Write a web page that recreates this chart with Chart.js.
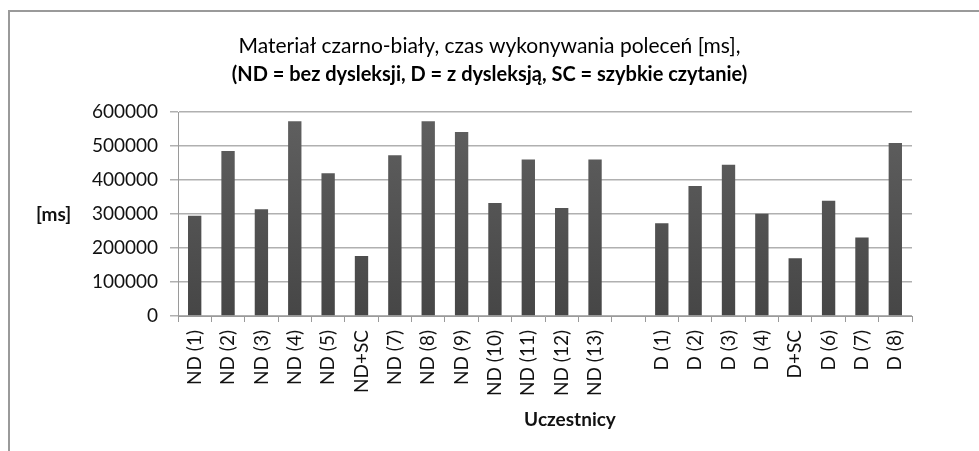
<!DOCTYPE html>
<html lang="pl">
<head>
    <meta charset="UTF-8">
    <title>Materiał czarno-biały, czas wykonywania poleceń</title>
    <script src="https://cdn.jsdelivr.net/npm/chart.js"></script>
    <style>
        body { margin: 0; padding: 0; background: #fff; }
        .wrap { position: relative; width: 979px; height: 451px; overflow: hidden; }
        .frame { position: absolute; left: 8px; top: 10px; width: 1000px; height: 500px;
                 border-left: 2px solid #9a9a9a; border-top: 2px solid #9a9a9a; }
        canvas { position: absolute; left: 0; top: 0; }
    </style>
</head>
<body>
    <div class="wrap">
        <div class="frame"></div>
        <canvas id="chart" width="979" height="451"></canvas>
    </div>

    <script>
        // data
        const ndLabels = ['ND (1)', 'ND (2)', 'ND (3)', 'ND (4)', 'ND (5)', 'ND+SC', 'ND (7)',
                          'ND (8)', 'ND (9)', 'ND (10)', 'ND (11)', 'ND (12)', 'ND (13)'];
        const ndValues = [295000, 486000, 314000, 573000, 420000, 177000, 473000,
                          573000, 542000, 333000, 461000, 318000, 461000];
        const dLabels = ['D (1)', 'D (2)', 'D (3)', 'D (4)', 'D+SC', 'D (6)', 'D (7)', 'D (8)'];
        const dValues = [273000, 383000, 445000, 301000, 170000, 339000, 231000, 509000];
        const yTicks = [0, 100000, 200000, 300000, 400000, 500000, 600000];

        // one empty slot separates the two groups
        const labels = [...ndLabels, '', ...dLabels];
        const values = [...ndValues, null, ...dValues];

        const font = 'Lato, "Open Sans", sans-serif';

        function barFill(context) {
            const area = context.chart.chartArea;
            if (!area) return '#555';
            const g = context.chart.ctx.createLinearGradient(0, area.top, 0, area.bottom);
            g.addColorStop(0, '#606060');
            g.addColorStop(1, '#464646');
            return g;
        }

        // "[ms]" sits horizontally left of the axis, "Uczestnicy" under the labels
        const axisNames = {
            id: 'axisNames',
            afterDraw(chart) {
                const ctx = chart.ctx;
                const a = chart.chartArea;
                ctx.save();
                ctx.fillStyle = '#111';
                ctx.font = 'bold 19px ' + font;
                ctx.textBaseline = 'middle';
                ctx.textAlign = 'left';
                ctx.fillText('[ms]', 36, (a.top + a.bottom) / 2 + 1);
                ctx.textAlign = 'center';
                ctx.fillText('Uczestnicy', 570, 420);
                ctx.restore();
            }
        };

        new Chart(document.getElementById('chart'), {
            type: 'bar',
            data: {
                labels: labels,
                datasets: [{
                    data: values,
                    backgroundColor: barFill,
                    borderWidth: 0,
                    categoryPercentage: 1.0,
                    barPercentage: 0.4
                }]
            },
            options: {
                responsive: false,
                animation: false,
                layout: { padding: 0 },
                plugins: {
                    legend: { display: false },
                    tooltip: { enabled: false },
                    title: {
                        display: true,
                        text: 'Materiał czarno-biały, czas wykonywania poleceń [ms],',
                        color: '#000',
                        font: { family: font, size: 21, weight: 'normal', lineHeight: 1.2 },
                        padding: { top: 34, bottom: 3 }
                    },
                    subtitle: {
                        display: true,
                        text: '(ND = bez dysleksji, D = z dysleksją, SC = szybkie czytanie)',
                        color: '#000',
                        font: { family: font, size: 20, weight: 'bold', lineHeight: 1.2 },
                        padding: { top: 0, bottom: 26 }
                    }
                },
                scales: {
                    x: {
                        grid: { display: true, offset: true, drawOnChartArea: false,
                                drawTicks: true, tickLength: 6, color: '#9a9a9a' },
                        border: { display: true, color: '#9a9a9a', width: 1 },
                        ticks: {
                            minRotation: 90, maxRotation: 90, autoSkip: false,
                            padding: 8, color: '#111',
                            font: { family: font, size: 19 }
                        },
                        afterFit: s => { s.height = 135; }
                    },
                    y: {
                        min: 0, max: 600000,
                        afterBuildTicks: s => { s.ticks = yTicks.map(v => ({ value: v })); },
                        grid: { color: '#b0b0b0', lineWidth: 1.5, tickLength: 8 },
                        border: { display: true, color: '#9a9a9a' },
                        ticks: {
                            padding: 12, color: '#111',
                            font: { family: font, size: 19 },
                            callback: v => String(v)
                        },
                        afterFit: s => { s.width = 178; }
                    },
                    yRight: {
                        position: 'right',
                        display: true,
                        grid: { display: false },
                        border: { display: false },
                        ticks: { display: false },
                        afterFit: s => { s.width = 67; }
                    }
                }
            },
            plugins: [axisNames]
        });
    </script>
</body>
</html>
